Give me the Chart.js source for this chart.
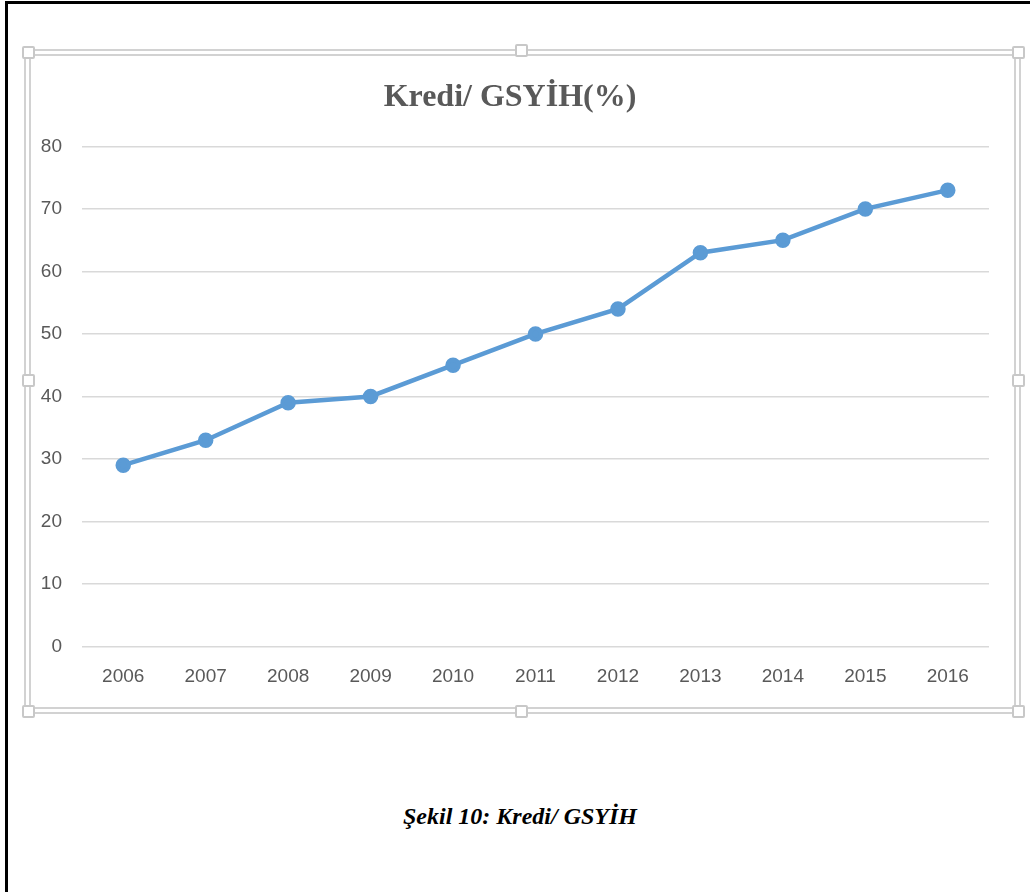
<!DOCTYPE html>
<html>
<head>
<meta charset="utf-8">
<script src="https://cdn.jsdelivr.net/npm/chart.js@4"></script>
<style>
  body { margin: 0; background: #fff; width: 1030px; height: 892px; overflow: hidden; position: relative; }
  #page { position: absolute; left: 5px; top: 1px; width: 1100px; height: 1000px; border: 3px solid #000; }
  #frame { position: absolute; left: 24px; top: 49px; width: 997px; height: 665px; box-sizing: border-box; border: 7px double #d2d2d2; }
  .handle { position: absolute; width: 9px; height: 9px; border: 2px solid #c8c8c8; border-radius: 2px; background: #fff; }
  #wrap { position: absolute; left: 31px; top: 56px; width: 983px; height: 650px; }
  #caption { position: absolute; left: 0; width: 1040px; top: 803px; text-align: center;
    font: italic bold 24px "Liberation Serif", "Times New Roman", serif; color: #000; }
</style>
</head>
<body>
<div id="page"></div>
<div id="frame"></div>
<div class="handle" style="left:22px;top:46px"></div>
<div class="handle" style="left:515px;top:44px"></div>
<div class="handle" style="left:1012px;top:46px"></div>
<div class="handle" style="left:22px;top:374px"></div>
<div class="handle" style="left:1012px;top:374px"></div>
<div class="handle" style="left:22px;top:705px"></div>
<div class="handle" style="left:515px;top:705px"></div>
<div class="handle" style="left:1012px;top:705px"></div>
<div id="wrap"><canvas id="myChart"></canvas></div>
<div id="caption">Şekil 10: Kredi/ GSYİH</div>
<script>
const years = ["2006", "2007", "2008", "2009", "2010", "2011", "2012", "2013", "2014", "2015", "2016"];
const krediGsyih = [29, 33, 39, 40, 45, 50, 54, 63, 65, 70, 73];
const yTicks = [0, 10, 20, 30, 40, 50, 60, 70, 80];

const tickFont = { family: "'Liberation Sans Narrow', 'Liberation Sans', sans-serif", size: 19 };
const tickColor = "#595959";

const data = {
  labels: years,
  datasets: [
    {
      label: "Kredi/ GSYİH(%)",
      data: krediGsyih,
      borderColor: "#5B9BD5",
      backgroundColor: "#5B9BD5",
      borderWidth: 4.5,
      pointRadius: 5.5,
      pointHoverRadius: 5.5,
      tension: 0,
    },
  ],
};

const config = {
  type: "line",
  data: data,
  options: {
    responsive: true,
    maintainAspectRatio: false,
    animation: false,
    layout: { padding: { left: 0, right: 25, top: 0, bottom: 0 } },
    plugins: {
      legend: { display: false },
      tooltip: { enabled: false },
      title: {
        display: true,
        text: "Kredi/ GSYİH(%)",
        color: "#595959",
        font: { family: "'Liberation Serif', 'Times New Roman', serif", size: 32, weight: "bold" },
        padding: { top: 23, bottom: 29 },
      },
    },
    scales: {
      x: {
        offset: true,
        grid: { display: false, drawTicks: false },
        border: { display: false },
        ticks: { color: tickColor, font: tickFont, padding: 19, maxRotation: 0 },
        afterFit(scale) { scale.height = 59.5; },
      },
      y: {
        min: 0,
        max: 80,
        afterBuildTicks(scale) { scale.ticks = yTicks.map(v => ({ value: v })); },
        grid: { color: "#d9d9d9", lineWidth: 1.5, drawTicks: false },
        border: { display: false },
        ticks: { color: tickColor, font: tickFont, padding: 20 },
        afterFit(scale) { scale.width = 51; },
      },
    },
  },
};

const myChart = new Chart(document.getElementById("myChart"), config);
</script>
</body>
</html>
